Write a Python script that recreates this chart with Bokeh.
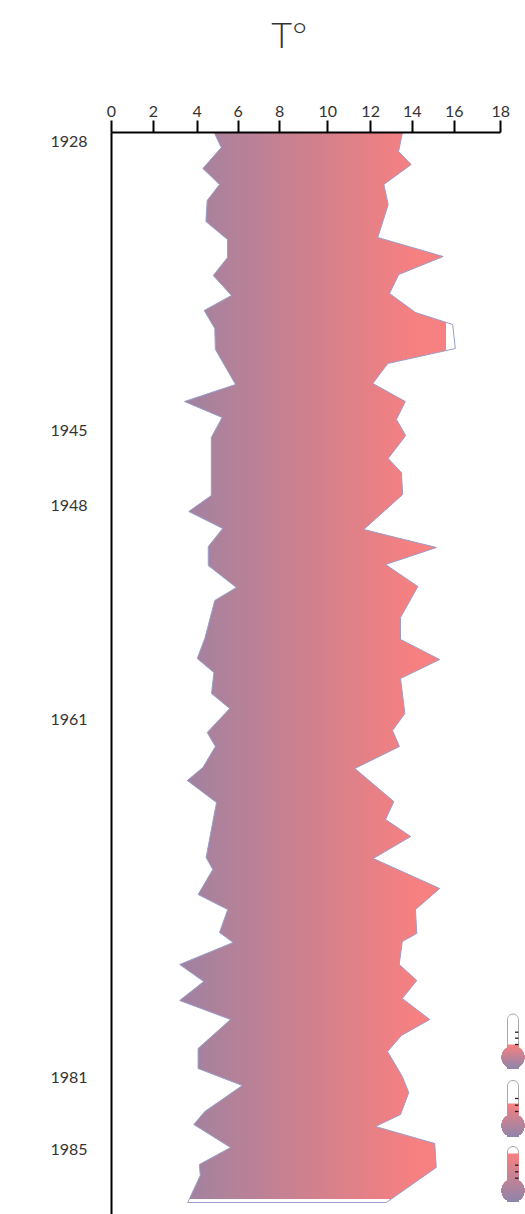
import math
from bokeh.plotting import figure
from bokeh.models import Range1d, LinearAxis, FixedTicker
from bokeh.embed import file_html
from bokeh.resources import INLINE

# values
x_tick_labels = ["0", "2", "4", "6", "8", "10", "12", "14", "16", "18"]
x_tick_at = [0, 1.94, 3.96, 5.85, 7.77, 9.99, 11.97, 13.89, 15.83, 17.98]
year_labels = ["1928", "1945", "1948", "1961", "1981", "1985"]
year_at = [9, 298, 373, 587, 945, 1017]

low_y = [0, 15, 36, 52, 68, 89, 107, 125, 143, 163, 178, 196, 217, 252, 269, 285, 305, 363,
         379, 396, 414, 433, 455, 468, 506, 526, 540, 561, 576, 600, 614, 635, 648, 670, 725,
         737, 762, 777, 800, 810, 832, 849, 868, 887, 916, 936, 953, 979, 992, 1015, 1032, 1043, 1070]
low_t = [4.74, 5.07, 4.22, 4.99, 4.42, 4.36, 5.36, 5.36, 4.70, 5.54, 4.28, 4.77, 4.80, 5.73, 3.37,
         5.11, 4.61, 4.61, 3.57, 5.14, 4.47, 4.47, 5.77, 4.77, 4.31, 3.96, 4.73, 4.62, 5.46, 4.42,
         4.80, 4.22, 3.50, 4.85, 4.37, 4.68, 4.00, 5.37, 4.99, 5.62, 3.15, 4.26, 3.15, 5.50, 4.00,
         4.00, 6.04, 4.31, 3.80, 5.50, 4.06, 4.10, 3.52]
high_y = [0, 19, 32, 52, 72, 105, 124, 142, 161, 180, 192, 216, 231, 251, 269, 287, 303, 326, 340,
          362, 397, 415, 432, 454, 485, 507, 527, 546, 581, 598, 614, 636, 669, 687, 704, 726, 756,
          777, 801, 809, 832, 848, 866, 887, 903, 919, 944, 960, 982, 994, 1011, 1035, 1070]
high_t = [13.44, 13.26, 13.84, 12.58, 12.78, 12.30, 15.32, 13.27, 12.84, 14.04, 15.76, 15.88, 12.76,
          12.07, 13.57, 13.16, 13.59, 12.78, 13.39, 13.45, 11.65, 15.01, 12.66, 14.15, 13.35, 13.35,
          15.16, 13.35, 13.55, 12.98, 13.30, 11.24, 13.04, 12.66, 13.82, 12.09, 15.16, 14.04, 14.10,
          13.43, 13.29, 14.10, 13.43, 14.70, 13.39, 12.75, 13.43, 13.73, 13.35, 12.19, 14.93, 15.00, 12.69]

PX = 21.65
AX = 111
TOP = 132
X = lambda px: (px - AX) / PX
Y = lambda py: py - TOP

INK = "#333333"
PURPLE = (160, 130, 160)
SALMON = (247, 128, 128)
EDGE = "#9a9dca"


def mix(a, b, t):
    t = max(0.0, min(1.0, t))
    return "#%02x%02x%02x" % tuple(round(a[i] + (b[i] - a[i]) * t) for i in range(3))


p = figure(width=525, height=1214, output_backend="svg", toolbar_location=None,
           x_range=Range1d(0, X(525)), y_range=Range1d(Y(1214), 0),
           x_axis_location=None, y_axis_location=None,
           min_border_left=111, min_border_top=132, min_border_right=0, min_border_bottom=0,
           outline_line_color=None, background_fill_color="white", border_fill_color="white")
p.grid.visible = False

# gradient band, painted left to right so that no seams remain
fill_left, fill_right, fill_bottom = 3.0, 15.43, 1066
n = 133
lefts = [fill_left + (fill_right - fill_left) * i / n for i in range(n)]
colors = [mix(PURPLE, SALMON, (l - 3.2) / (14.0 - 3.2)) for l in lefts]
p.quad(left=lefts, right=[fill_right] * n, top=[0] * n, bottom=[fill_bottom] * n,
       fill_color=colors, line_color=None)

# cut the band down to the temperature range
p.patch([2.5] + low_t + [2.5], [0] + low_y + [1080], fill_color="white", line_color=None)
p.patch([17.0] + high_t + [17.0], [0] + high_y + [1080], fill_color="white", line_color=None)

# outline
p.line(low_t + high_t[::-1], low_y + high_y[::-1], line_color=EDGE, line_width=1)

# thermometers
cx = 512.5
half = 5.5
radius = 11.3
thermos = [(1013.5, 1056.7, 1044, [1031.7, 1037.7, 1044]),
           (1080.0, 1125.0, 1103, [1098.0, 1104.7, 1111]),
           (1146.0, 1190.0, 1153, [1164.7, 1171.3, 1177.7])]
for top, cy, level, marks in thermos:
    def hw(y):
        w = half
        if y < top + half:
            w = math.sqrt(max(0.0, half ** 2 - (top + half - y) ** 2))
        if abs(y - cy) < radius:
            w = max(w, math.sqrt(max(0.0, radius ** 2 - (y - cy) ** 2)))
        return w
    # tube outline
    ox = [cx - half, cx - half]
    oy = [cy - 9, top + half]
    for k in range(1, 16):
        a = math.pi * k / 16
        ox.append(cx - half * math.cos(a))
        oy.append(top + half - half * math.sin(a))
    ox += [cx + half, cx + half]
    oy += [top + half, cy - 9]
    p.line([X(v) for v in ox], [Y(v) for v in oy], line_color="#a8a8a8", line_width=1)
    # gradient liquid: each layer covers everything below it, so no seams remain
    bottom = cy + radius
    xs, ys, cols = [], [], []
    steps = int(bottom - level)
    fine = [level + (bottom - level) * i / (steps * 5) for i in range(steps * 5)]
    angles = [math.pi * i / 40 for i in range(41)]
    fine += [cy + radius * math.sin(a) for a in angles if a > 1.2 and cy + radius * math.sin(a) > fine[-1]]
    fine.append(bottom)
    fine = sorted(set(fine))
    for i in range(steps):
        y0 = level + (bottom - level) * i / steps
        below = [v for v in fine if v >= y0]
        xs.append([X(cx - hw(v)) for v in below] + [X(cx + hw(v)) for v in below[::-1]])
        ys.append([Y(v) for v in below] + [Y(v) for v in below[::-1]])
        cols.append(mix((247, 128, 128), (143, 133, 170), i / max(1, steps - 1)))
    p.patches(xs, ys, fill_color=cols, line_color=None)
    # scale marks
    p.segment([X(514.5)] * 3, [Y(m) for m in marks], [X(518)] * 3, [Y(m) for m in marks],
              line_color="#222222", line_width=1.3)

# axes
xaxis = LinearAxis(ticker=FixedTicker(ticks=x_tick_at),
                   major_label_overrides=dict(zip(x_tick_at, x_tick_labels)),
                   bounds=(-0.33, 17.98), axis_line_color="black", axis_line_width=2,
                   major_tick_line_color="black", major_tick_line_width=2,
                   major_tick_out=12, major_tick_in=0, minor_tick_out=0, minor_tick_in=0,
                   major_label_standoff=4, major_label_text_font="Lato",
                   major_label_text_font_size="16px", major_label_text_color=INK)
p.add_layout(xaxis, "above")

# the heading is the label of an empty axis; no-break spaces move it left of the frame's centre
heading = LinearAxis(ticker=FixedTicker(ticks=[]),
                     axis_line_color=None, major_tick_line_color=None, minor_tick_line_color=None,
                     major_label_text_color=None,
                     axis_label="T°" + "\u00a0" * 6, axis_label_standoff=47,
                     axis_label_text_font="Lato Light",
                     axis_label_text_font_size="36px", axis_label_text_font_style="normal",
                     axis_label_text_color=INK)
p.add_layout(heading, "above")

yaxis = LinearAxis(ticker=FixedTicker(ticks=year_at),
                   major_label_overrides=dict(zip(year_at, year_labels)),
                   axis_line_color="black", axis_line_width=2,
                   major_tick_out=0, major_tick_in=0, minor_tick_out=0, minor_tick_in=0,
                   major_label_standoff=24, major_label_text_font="Lato",
                   major_label_text_font_size="16px", major_label_text_color=INK)
p.add_layout(yaxis, "left")

open("out.html", "w").write(file_html(p, INLINE))
